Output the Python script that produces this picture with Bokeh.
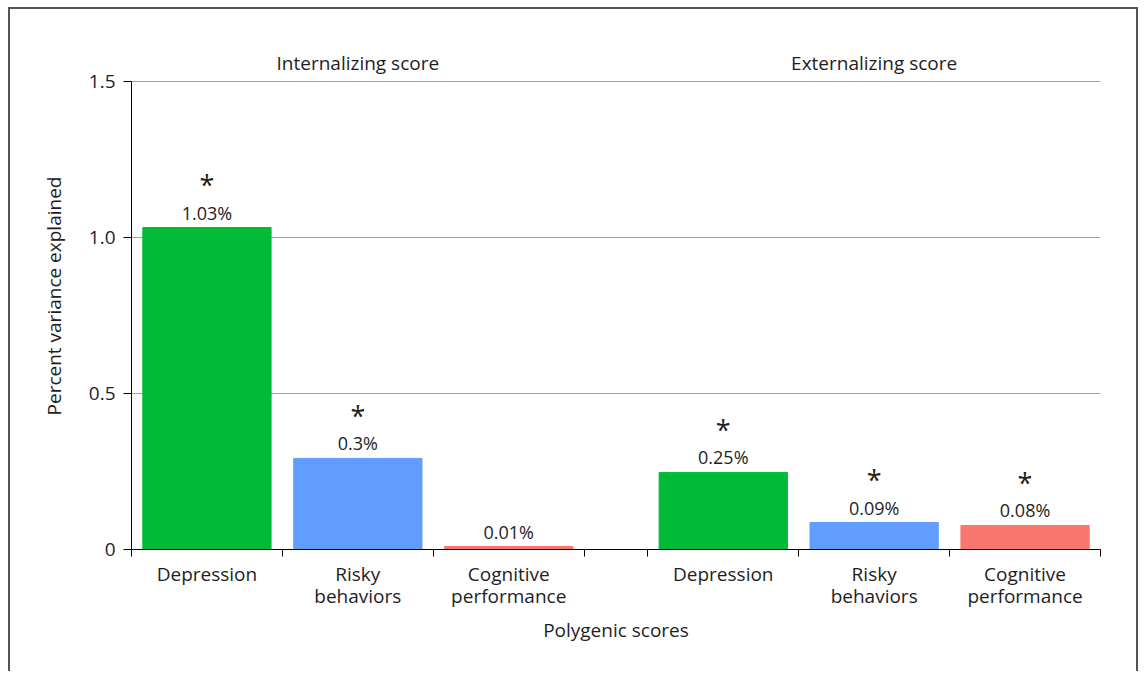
from bokeh.plotting import figure
from bokeh.models import ColumnDataSource, FixedTicker, Label
from bokeh.core.properties import value
from bokeh.embed import file_html
from bokeh.resources import INLINE

# ---- data ----
groups = ["Internalizing score", "Externalizing score"]
categories = ["Depression", "Risky\nbehaviors", "Cognitive\nperformance"]
values_int = [1.032, 0.292, 0.0096]
values_ext = [0.247, 0.0865, 0.077]
labels_int = ["1.03%", "0.3%", "0.01%"]
labels_ext = ["0.25%", "0.09%", "0.08%"]
sig_int = ["*", "*", ""]
sig_ext = ["*", "*", "*"]
colors = ["#00BA38", "#619CFF", "#F8766D"]
y_ticks = [0, 0.5, 1.0, 1.5]
y_tick_labels = ["0", "0.5", "1.0", "1.5"]

FONT = "Open Sans"
FS = "19px"
TXT = "#1E1E1E"
GAP = 0.421875  # panel spacing in category units
ncat = len(categories)
Y_MAX = 1.5
Y_END = 1.625   # head room for panel titles

xs, vals, labs, sigs, cols, tick_labels = [], [], [], [], [], {}
bounds = []
for g, (v, l, s) in enumerate([(values_int, labels_int, sig_int),
                               (values_ext, labels_ext, sig_ext)]):
    base = g * (ncat + GAP)
    for i in range(ncat):
        xc = base + i + 0.5
        xs.append(xc)
        vals.append(v[i])
        labs.append(l[i])
        sigs.append(s[i])
        cols.append(colors[i])
        tick_labels[xc] = categories[i]
    bounds.extend([base + i for i in range(ncat + 1)])
x_end = 2 * ncat + GAP

src = ColumnDataSource(dict(x=xs, top=vals, lab=labs, sig=sigs, color=cols))

p = figure(width=1130, height=664, x_range=(0, x_end), y_range=(0, Y_END),
           output_backend="svg", toolbar_location=None,
           min_border_left=121, min_border_right=40, min_border_top=33,
           min_border_bottom=124)
p.styles = {"margin-left": "8px", "margin-top": "7px",
            "border-left": "2px solid #555555", "border-top": "2px solid #555555",
            "border-right": "2px solid #555555"}
p.outline_line_color = None
p.background_fill_color = "white"

p.vbar(x="x", top="top", width=0.85, bottom=0, color="color", source=src)
p.text(x="x", y="top", text="lab", source=src, text_align="center",
       text_baseline="middle", y_offset=-15, text_font=value(FONT),
       text_font_size="18px", text_color=TXT)
p.text(x="x", y="top", text="sig", source=src, text_align="center",
       text_baseline="middle", y_offset=-43, text_font=value(FONT),
       text_font_size="27px", text_color=TXT)

for g, name in enumerate(groups):
    p.add_layout(Label(x=g * (ncat + GAP) + ncat / 2, y=Y_MAX, text=name,
                       text_align="center", text_baseline="middle", y_offset=19,
                       text_font=FONT, text_font_size=FS, text_color=TXT))

# x axis
xa = p.xaxis[0]
xa.ticker = FixedTicker(ticks=xs, minor_ticks=bounds)
xa.major_label_overrides = tick_labels
xa.major_tick_line_color = None
xa.major_tick_out = 0
xa.minor_tick_out = 7
xa.minor_tick_in = 0
xa.minor_tick_line_color = "black"
xa.axis_line_color = "black"
xa.major_label_text_font = FONT
xa.major_label_text_font_size = FS
xa.major_label_text_color = TXT
xa.major_label_text_line_height = 0.85
xa.major_label_standoff = 4
xa.axis_label = "Polygenic scores"
xa.axis_label_text_font = FONT
xa.axis_label_text_font_size = FS
xa.axis_label_text_font_style = "normal"
xa.axis_label_text_color = TXT
xa.axis_label_standoff = 5

# y axis
ya = p.yaxis[0]
ya.ticker = FixedTicker(ticks=y_ticks)
ya.bounds = (0, Y_MAX)
ya.major_label_overrides = {t: l for t, l in zip(y_ticks, y_tick_labels)}
ya.major_tick_out = 8
ya.major_tick_in = 0
ya.minor_tick_line_color = None
ya.axis_line_color = "black"
ya.major_label_text_font = FONT
ya.major_label_text_font_size = FS
ya.major_label_text_color = TXT
ya.major_label_standoff = 8
ya.axis_label = "Percent variance explained"
ya.axis_label_text_font = FONT
ya.axis_label_text_font_size = FS
ya.axis_label_text_font_style = "normal"
ya.axis_label_text_color = TXT
ya.axis_label_standoff = 19

p.xgrid.grid_line_color = None
p.ygrid.ticker = FixedTicker(ticks=y_ticks[1:])
p.ygrid.grid_line_color = "#A0A0A0"
p.ygrid.grid_line_width = 1

open("out.html", "w").write(file_html(p, INLINE))
